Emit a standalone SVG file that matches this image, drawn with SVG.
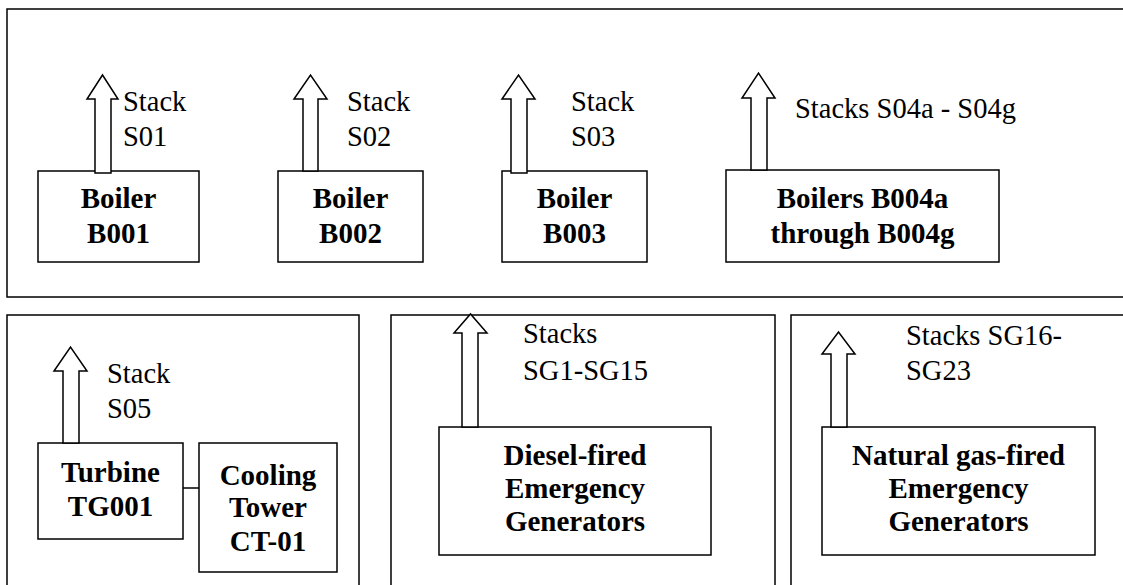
<svg xmlns="http://www.w3.org/2000/svg" width="1123" height="585" viewBox="0 0 1123 585">
<style>
.frame{fill:none;stroke:#000;stroke-width:1.5}
.box{fill:#fff;stroke:#000;stroke-width:1.5}
.arrow{fill:#fff;stroke:#000;stroke-width:1.5;stroke-linejoin:miter}
text{font-family:'Liberation Serif','Times New Roman',serif;fill:#000}
.lbl{font-size:28.5px}
.bold{font-size:29px;font-weight:bold;text-anchor:middle}
.conn{stroke:#000;stroke-width:1.5;fill:none}
</style>
<rect width="1123" height="585" fill="#fff"/>
<g id="frames">
<rect class="frame" x="7" y="9" width="1130" height="288"/>
<rect class="frame" x="7" y="315" width="352" height="290"/>
<rect class="frame" x="391" y="315" width="384" height="290"/>
<rect class="frame" x="791" y="315" width="345" height="290"/>
</g>
<g id="b001">
<rect class="box" x="38" y="171" width="161" height="91"/>
<text class="bold" x="118.5" y="208">Boiler</text>
<text class="bold" x="118.5" y="243">B001</text>
</g>
<g id="b002">
<rect class="box" x="278" y="171" width="145" height="91"/>
<text class="bold" x="350.5" y="208">Boiler</text>
<text class="bold" x="350.5" y="243">B002</text>
</g>
<g id="b003">
<rect class="box" x="502" y="171" width="145" height="91"/>
<text class="bold" x="574.5" y="208">Boiler</text>
<text class="bold" x="574.5" y="243">B003</text>
</g>
<g id="b004">
<rect class="box" x="726" y="170" width="273" height="92"/>
<text class="bold" x="862.5" y="208">Boilers B004a</text>
<text class="bold" x="862.5" y="243">through B004g</text>
</g>
<g id="tg001">
<rect class="box" x="38" y="443" width="145" height="96"/>
<text class="bold" x="110.5" y="482">Turbine</text>
<text class="bold" x="110.5" y="516">TG001</text>
</g>
<g id="ct01">
<rect class="box" x="199" y="443" width="138" height="129"/>
<text class="bold" x="268" y="485">Cooling</text>
<text class="bold" x="268" y="517">Tower</text>
<text class="bold" x="268" y="551">CT-01</text>
</g>
<g id="diesel">
<rect class="box" x="439" y="427" width="272" height="128"/>
<text class="bold" x="575" y="465">Diesel-fired</text>
<text class="bold" x="575" y="498">Emergency</text>
<text class="bold" x="575" y="531">Generators</text>
</g>
<g id="natgas">
<rect class="box" x="822" y="427" width="273" height="128"/>
<text class="bold" x="958.5" y="465">Natural gas-fired</text>
<text class="bold" x="958.5" y="498">Emergency</text>
<text class="bold" x="958.5" y="531">Generators</text>
</g>
<g id="stacks">
<polygon class="arrow" points="95,173 95,99 87,99 102.5,75 118,99 111,99 111,173"/>
<text class="lbl" x="123" y="111">Stack</text>
<text class="lbl" x="123" y="146">S01</text>
<polygon class="arrow" points="303,171 303,99 294,99 310.5,75 327,99 318,99 318,171"/>
<text class="lbl" x="347" y="111">Stack</text>
<text class="lbl" x="347" y="146">S02</text>
<polygon class="arrow" points="511,173 511,99 502,99 518.5,75 535,99 527,99 527,173"/>
<text class="lbl" x="571" y="111">Stack</text>
<text class="lbl" x="571" y="146">S03</text>
<polygon class="arrow" points="751,170 751,98 742,98 758.5,73 775,98 767,98 767,170"/>
<text class="lbl" x="795" y="118">Stacks S04a - S04g</text>
<polygon class="arrow" points="63,443 63,371 54,371 70.5,347 87,371 79,371 79,443"/>
<text class="lbl" x="107" y="383">Stack</text>
<text class="lbl" x="107" y="418">S05</text>
<polygon class="arrow" points="462,427 462,333 454,333 470.5,314 487,333 478,333 478,427"/>
<text class="lbl" x="523" y="343">Stacks</text>
<text class="lbl" x="523" y="380">SG1-SG15</text>
<polygon class="arrow" points="831,427 831,354 822,354 838.5,332 855,354 847,354 847,427"/>
<text class="lbl" x="906" y="345">Stacks SG16-</text>
<text class="lbl" x="906" y="380">SG23</text>
</g>
<g id="connectors">
<line class="conn" x1="183" y1="488" x2="199" y2="488"/>
</g>
</svg>
